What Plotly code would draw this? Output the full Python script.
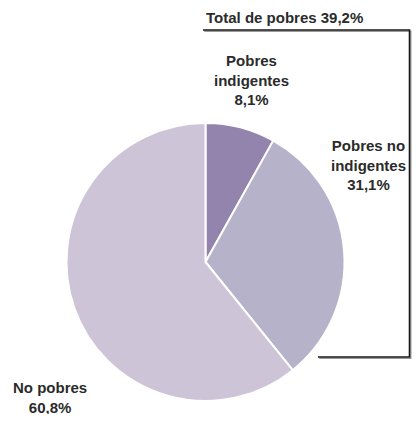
import plotly.graph_objects as go

categories = ["Pobres indigentes", "Pobres no indigentes", "No pobres"]
values = [8.1, 31.1, 60.8]
colors = ["#9384AE", "#B6B2C9", "#CEC4D7"]
total_label = "Total de pobres 39,2%"

# page body has an 8px margin; figure sized to fit the 420x422 window without scrolling
OFF = 8
W, H = 420 - 2 * OFF, 422 - 2 * OFF

def px(x):
    return (x - OFF) / W

def py(y):
    return 1 - (y - OFF) / H

fig = go.Figure(go.Pie(
    labels=categories,
    values=values,
    sort=False,
    direction="clockwise",
    rotation=0,
    marker=dict(colors=colors, line=dict(color="white", width=2)),
    textinfo="none",
    hoverinfo="label+percent",
    showlegend=False,
    domain=dict(x=[px(66.5), px(344.5)], y=[py(401), py(123)]),
))

fmt = lambda v: f"{v:.1f}".replace(".", ",") + "%"
font = dict(family="Liberation Sans, Arial, sans-serif", size=15, color="#2b2b2b")

ann = [
    (251, 80, "<b>Pobres<br>indigentes<br>" + fmt(values[0]) + "</b>"),
    (368, 165, "<b>Pobres no<br>indigentes<br>" + fmt(values[1]) + "</b>"),
    (50, 397, "<b>No pobres<br>" + fmt(values[2]) + "</b>"),
]
annotations = [dict(x=px(x), y=py(y), xref="paper", yref="paper", text=t,
                    showarrow=False, font=font, align="center",
                    xanchor="center", yanchor="middle") for x, y, t in ann]
annotations.append(dict(x=px(204), y=py(18), xref="paper", yref="paper",
                        text="<b>" + total_label + "</b>", showarrow=False,
                        font=font, xanchor="left", yanchor="middle"))

def path(dx, dy):
    pts = [(203 + dx, 30 + dy), (409.5 + dx, 30 + dy), (409.5 + dx, 357 + dy), (318 + dx, 357 + dy)]
    return "M " + " L ".join(f"{px(x)},{py(y)}" for x, y in pts)

shapes = [
    dict(type="path", path=path(1.3, 1.3), xref="paper", yref="paper",
         line=dict(color="#9a9a9a", width=1.4)),
    dict(type="path", path=path(0, 0), xref="paper", yref="paper",
         line=dict(color="#1a1a1a", width=1.6)),
]

fig.update_layout(
    width=W, height=H,
    margin=dict(l=0, r=0, t=0, b=0),
    paper_bgcolor="white",
    plot_bgcolor="white",
    annotations=annotations,
    shapes=shapes,
)

fig.write_html("out.html")
